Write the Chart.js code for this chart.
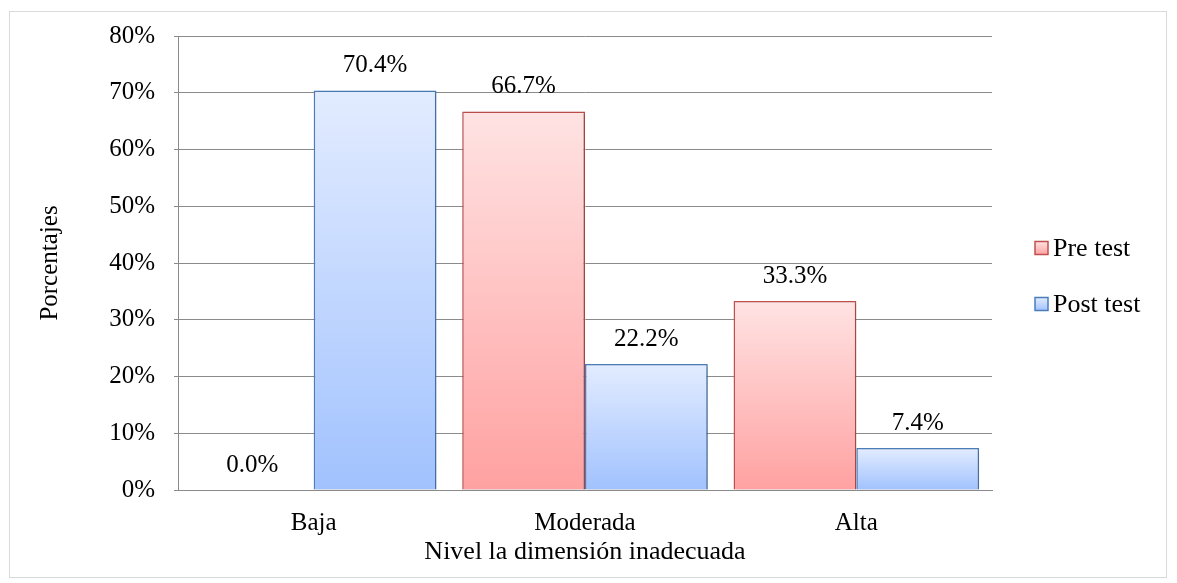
<!DOCTYPE html>
<html>
<head>
<meta charset="utf-8">
<script src="https://cdn.jsdelivr.net/npm/chart.js@4.4.0/dist/chart.umd.min.js"></script>
<style>
  html, body { margin: 0; padding: 0; background: #fff; }
  #wrap {
    position: absolute; left: 9px; top: 11px;
    width: 1158px; height: 567px;
    box-sizing: border-box; border: 1px solid #d9d9d9;
  }
  #wrap canvas { display: block; }
</style>
</head>
<body>
<div id="wrap"><canvas id="barChart" width="1156" height="565"></canvas></div>
<script>
// chart values
const categories = ['Baja', 'Moderada', 'Alta'];
const preTest = [0.0, 66.7, 33.3];
const postTest = [70.4, 22.2, 7.4];
const yTicks = [0, 10, 20, 30, 40, 50, 60, 70, 80];

const FONT = 'Liberation Serif, Times New Roman, serif';
const FS = 25;
const gridGray = '#8a8a8a';

const palette = {
    pre:  { top: '#ffe3e3', bottom: '#ffa1a1', line: '#c0504d' },
    post: { top: '#e3ecff', bottom: '#a1c2fe', line: '#4a7ebb' }
};

// vertical gradient from the bar top down to the zero line
function barFill(colors) {
    return function (c) {
        const chart = c.chart;
        if (!chart.chartArea || c.raw === undefined) return colors.bottom;
        const y = chart.scales.y;
        const top = y.getPixelForValue(c.raw);
        const bottom = y.getPixelForValue(0);
        if (bottom - top < 1) return colors.bottom;
        const g = chart.ctx.createLinearGradient(0, top, 0, bottom);
        g.addColorStop(0, colors.top);
        g.addColorStop(1, colors.bottom);
        return g;
    };
}

// soft shadow under the bars
const barShadow = {
    id: 'barShadow',
    beforeDatasetDraw(chart) {
        const ctx = chart.ctx;
        ctx.save();
        ctx.shadowColor = 'rgba(0,0,0,0.25)';
        ctx.shadowBlur = 3;
        ctx.shadowOffsetX = 1.5;
        ctx.shadowOffsetY = 1.5;
    },
    afterDatasetDraw(chart) {
        chart.ctx.restore();
    }
};

// value labels above each bar
const valueLabels = {
    id: 'valueLabels',
    afterDatasetsDraw(chart) {
        const ctx = chart.ctx;
        ctx.save();
        ctx.font = FS + 'px ' + FONT;
        ctx.fillStyle = '#000';
        ctx.textAlign = 'center';
        ctx.textBaseline = 'middle';
        chart.data.datasets.forEach((ds, i) => {
            chart.getDatasetMeta(i).data.forEach((bar, j) => {
                ctx.fillText(ds.data[j].toFixed(1) + '%', bar.x, bar.y - 25);
            });
        });
        ctx.restore();
    }
};

// legend drawn to the right of the plot
const sideLegend = {
    id: 'sideLegend',
    afterDraw(chart) {
        const ctx = chart.ctx;
        const area = chart.chartArea;
        const boxX = area.right + 43;
        const midY = (area.top + area.bottom) / 2 + 13;
        const gap = 56;
        const box = 13;
        ctx.save();
        ctx.font = '26px ' + FONT;
        ctx.textBaseline = 'middle';
        ctx.textAlign = 'left';
        chart.data.datasets.forEach((ds, i) => {
            const cy = midY + (i - 0.5) * gap;
            const col = ds.legendColors;
            const g = ctx.createLinearGradient(0, cy - box / 2, 0, cy + box / 2);
            g.addColorStop(0, col.top);
            g.addColorStop(1, col.bottom);
            ctx.fillStyle = g;
            ctx.fillRect(boxX, cy - box / 2, box, box);
            ctx.lineWidth = 1.5;
            ctx.strokeStyle = col.line;
            ctx.strokeRect(boxX, cy - box / 2, box, box);
            ctx.fillStyle = '#000';
            ctx.fillText(ds.label, boxX + 18, cy + 1);
        });
        ctx.restore();
    }
};

const data = {
    labels: categories,
    datasets: [{
        label: 'Pre test',
        data: preTest,
        backgroundColor: barFill(palette.pre),
        borderColor: palette.pre.line,
        borderWidth: 1.5,
        legendColors: palette.pre
    }, {
        label: 'Post test',
        data: postTest,
        backgroundColor: barFill(palette.post),
        borderColor: palette.post.line,
        borderWidth: 1.5,
        legendColors: palette.post
    }]
};

const config = {
    type: 'bar',
    data: data,
    options: {
        responsive: false,
        animation: false,
        categoryPercentage: 0.905,
        barPercentage: 1.0,
        layout: {
            padding: { top: 24, right: 174, bottom: 0, left: 0 }
        },
        scales: {
            x: {
                grid: { display: false },
                border: { display: true, color: gridGray, width: 1 },
                ticks: {
                    color: '#000',
                    padding: 10,
                    font: { family: FONT, size: FS }
                },
                title: {
                    display: true,
                    text: 'Nivel la dimensión inadecuada',
                    color: '#000',
                    padding: { top: 0, bottom: 9 },
                    font: { family: FONT, size: 26 }
                },
                afterFit(scale) {
                    scale.height = 87;
                    scale.paddingLeft = 0;
                    scale.paddingRight = 0;
                }
            },
            y: {
                min: 0,
                max: 80,
                afterBuildTicks(scale) {
                    scale.ticks = yTicks.map(v => ({ value: v }));
                },
                grid: { color: gridGray, lineWidth: 1, tickLength: 4 },
                border: { display: true, color: gridGray, width: 1 },
                ticks: {
                    color: '#000',
                    padding: 19,
                    font: { family: FONT, size: FS },
                    callback: v => v + '%'
                },
                title: {
                    display: true,
                    text: 'Porcentajes',
                    color: '#000',
                    padding: { top: 25, bottom: 0 },
                    font: { family: FONT, size: FS }
                },
                afterFit(scale) {
                    scale.width = 168;
                    scale.paddingTop = 0;
                    scale.paddingBottom = 0;
                }
            }
        },
        plugins: {
            legend: { display: false },
            tooltip: { enabled: false }
        }
    },
    plugins: [barShadow, valueLabels, sideLegend]
};

const barChart = new Chart(document.getElementById('barChart').getContext('2d'), config);
</script>
</body>
</html>
